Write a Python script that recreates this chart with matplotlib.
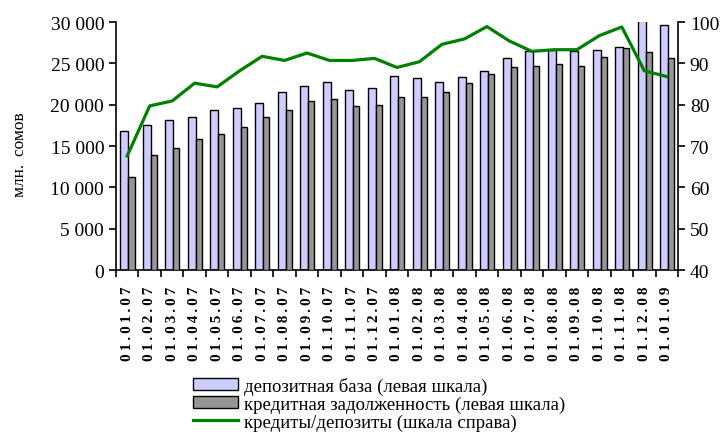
import matplotlib
matplotlib.use("Agg")
import matplotlib.pyplot as plt
import numpy as np
from matplotlib.ticker import FuncFormatter, FixedLocator

categories = ["01.01.07", "01.02.07", "01.03.07", "01.04.07", "01.05.07", "01.06.07",
              "01.07.07", "01.08.07", "01.09.07", "01.10.07", "01.11.07", "01.12.07",
              "01.01.08", "01.02.08", "01.03.08", "01.04.08", "01.05.08", "01.06.08",
              "01.07.08", "01.08.08", "01.09.08", "01.10.08", "01.11.08", "01.12.08",
              "01.01.09"]
deposits = [16800, 17500, 18100, 18500, 19400, 19600, 20200, 21500, 22200, 22800,
            21800, 22000, 23500, 23200, 22800, 23400, 24100, 25600, 26500, 26600,
            26500, 26600, 27000, 30300, 29600]
credits = [11300, 13900, 14700, 15800, 16400, 17300, 18500, 19400, 20500, 20700,
           19800, 20000, 20900, 20900, 21500, 22600, 23700, 24500, 24700, 24900,
           24700, 25800, 26800, 26400, 25600]
ratio = [67.6, 79.7, 80.9, 85.2, 84.3, 88.2, 91.7, 90.7, 92.5, 90.7,
         90.7, 91.2, 89.0, 90.4, 94.6, 95.9, 98.9, 95.4, 92.9, 93.3,
         93.3, 96.7, 98.8, 88.2, 86.8]

plt.rcParams['font.family'] = ['Liberation Serif', 'DejaVu Serif']

fig = plt.figure(figsize=(7.23, 4.35), dpi=100)
ax = fig.add_axes([0.1604, 0.377, 0.7774, 0.5701])
ax2 = ax.twinx()

x = np.arange(len(categories))
ax.bar(x - 0.122, deposits, width=0.356, color="#CCCCFF", edgecolor="black", linewidth=1.0,
       label="депозитная база (левая шкала)", zorder=2)
ax.bar(x + 0.19, credits, width=0.27, color="#969696", edgecolor="black", linewidth=1.0,
       label="кредитная задолженность (левая шкала)", zorder=3)
ax2.plot(x, ratio, color="#008000", linewidth=2.3, label="кредиты/депозиты (шкала справа)")

ax.set_xlim(-0.5, len(categories) - 0.5)
ax.set_ylim(0, 30000)
ax2.set_ylim(40, 100)
ax.set_yticks(np.arange(0, 30001, 5000))
ax.yaxis.set_major_formatter(FuncFormatter(lambda v, p: f"{int(v):,}".replace(",", " ")))
ax2.set_yticks(np.arange(40, 101, 10))

spaced = ["\u2009".join(c) for c in categories]
ax.set_xticks(x)
ax.set_xticklabels(spaced, rotation=90, fontweight="bold", fontsize=11)
ax.tick_params(axis="x", length=0, pad=11)
ax.xaxis.set_minor_locator(FixedLocator(np.arange(-0.5, len(categories), 1.0)))
ax.tick_params(axis="x", which="minor", length=5, width=1.2, direction="out")
ax.tick_params(axis="y", labelsize=14, length=5, width=1.2, direction="out")
ax2.tick_params(axis="y", labelsize=14, length=5, width=1.2, direction="out")

for a in (ax, ax2):
    a.spines["top"].set_visible(False)
    for s in ("left", "right", "bottom"):
        a.spines[s].set_linewidth(1.2)
ax.spines["right"].set_visible(False)
ax2.spines["left"].set_visible(False)
ax2.spines["bottom"].set_visible(False)

fig.text(0.027, 0.644, "млн.\u2009 сомов", rotation=90, ha="center", va="center", fontsize=12.5)

h1, l1 = ax.get_legend_handles_labels()
h2, l2 = ax2.get_legend_handles_labels()
fig.legend(h1 + h2, l1 + l2, loc="upper left", bbox_to_anchor=(0.267, 0.131),
           frameon=False, fontsize=13.5, handlelength=2.4, handleheight=0.62,
           labelspacing=0.03, handletextpad=0.3, borderaxespad=0, borderpad=0)

fig.savefig("out.png", dpi=100)
